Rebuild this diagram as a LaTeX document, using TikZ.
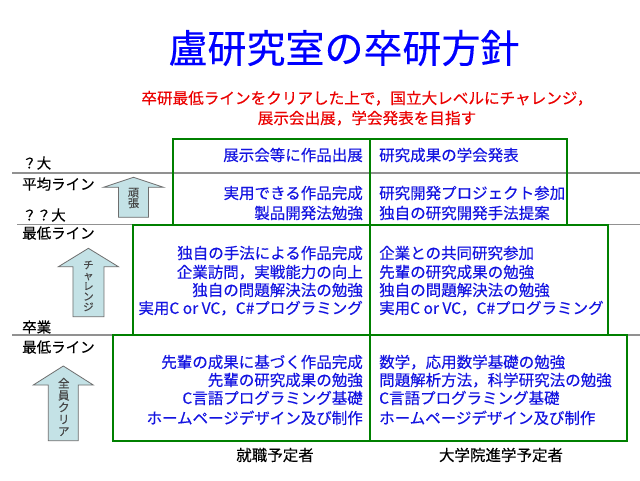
\documentclass[tikz,border=0pt]{standalone}
\usepackage{fontspec}
\newfontfamily\jp[FakeBold=0.3]{Noto Sans CJK JP}
\definecolor{tblue}{RGB}{0,0,255}
\definecolor{bblue}{RGB}{20,20,225}
\definecolor{boxgreen}{RGB}{0,128,0}
\definecolor{lgray}{RGB}{145,145,145}
\definecolor{arrfill}{RGB}{196,226,230}
\definecolor{arrline}{RGB}{110,110,110}
\definecolor{sred}{RGB}{235,0,0}
\definecolor{atext}{RGB}{70,70,70}
\begin{document}
\begin{tikzpicture}[x=1pt,y=-1pt,
  cell/.style={inner sep=0pt, text=bblue, font=\jp\fontsize{15.5}{18}\selectfont, text height=13.6pt, text depth=1.9pt},
  lcell/.style={cell, anchor=east},
  rcell/.style={cell, anchor=west},
  side/.style={inner sep=0pt, anchor=west, text=black, font=\jp\fontsize{14.5}{17}\selectfont, text height=12.8pt, text depth=1.7pt},
  foot/.style={inner sep=0pt, text=black, font=\jp\fontsize{15.5}{18}\selectfont, text height=13.6pt, text depth=1.9pt},
  sub/.style={inner sep=0pt, text=sred, font=\jp\fontsize{15.6}{19}\selectfont, text height=13.7pt, text depth=1.9pt},
  grayline/.style={draw=lgray, line width=1.6pt},
  greenbox/.style={draw=boxgreen, line width=2pt},
  uparrow/.style={fill=arrfill, draw=arrline, line width=0.8pt, line join=miter},
  atxt/.style={inner sep=0pt, align=center, text=atext}
]
\useasboundingbox (0,0) rectangle (640,480);
\fill[white] (0,0) rectangle (640,480);

% title
\node[inner sep=0pt, text=tblue, font=\jp\fontsize{39}{44}\selectfont, text height=34.3pt, text depth=4.7pt] (title) at (344,48) {盧研究室の卒研方針};
\node[sub] (sub1) at (367,98) {卒研最低ラインをクリアした上で，国立大レベルにチャレンジ，};
\node[sub] (sub2) at (367,118) {展示会出展，学会発表を目指す};

% gray level lines
\coordinate (g1a) at (12,173);  \coordinate (g1b) at (640,173);
\coordinate (g2a) at (17,224.5); \coordinate (g2b) at (640,224.5);
\coordinate (g3a) at (12,335);  \coordinate (g3b) at (640,335);
\draw[grayline] (g1a) -- (g1b);
\draw[grayline] (g2a) -- (g2b);
\draw[grayline] (g3a) -- (g3b);

% green boxes
\draw[greenbox] (173,139) rectangle (567,224.5);
\draw[greenbox] (133,224.5) rectangle (608,335);
\draw[greenbox] (113,335) rectangle (627,441);
\coordinate (dtop) at (370,139); \coordinate (dbot) at (370,441);
\draw[greenbox] (dtop) -- (dbot);

% side labels
\node[side] (s1) at (22,163) {？大};
\node[side] (s2) at (22,184) {平均ライン};
\node[side] (s3) at (22,215) {？？大};
\node[side] (s4) at (22,233) {最低ライン};
\node[side] (s5) at (22,327) {卒業};
\node[side] (s6) at (22,347) {最低ライン};

% arrows
\draw[uparrow] (133.5,177.3) -- (163.5,187.3) -- (148.5,187.3) -- (148.5,217.3) -- (118.5,217.3) -- (118.5,187.3) -- (103.5,187.3) -- cycle;
\node[atxt, font=\jp\fontsize{11}{10.5}\selectfont] (a1) at (133.5,198) {頑\\張};
\draw[uparrow] (88.4,248.3) -- (118.4,266.7) -- (103.9,266.7) -- (103.9,316.7) -- (72.9,316.7) -- (72.9,266.7) -- (58.4,266.7) -- cycle;
\node[atxt, font=\jp\fontsize{10.5}{10.5}\selectfont] (a2) at (88.4,286) {チ\\ャ\\レ\\ン\\ジ};
\draw[uparrow] (63.3,366) -- (93.3,385) -- (78.3,385) -- (78.3,440.7) -- (48.3,440.7) -- (48.3,385) -- (33.3,385) -- cycle;
\node[atxt, font=\jp\fontsize{11.5}{12}\selectfont] (a3) at (63.8,407) {全\\員\\ク\\リ\\ア};

% top box
\node[lcell] (t1) at (363,155) {展示会等に作品出展};
\node[lcell] (t2) at (363,193) {実用できる作品完成};
\node[lcell] (t3) at (363,213) {製品開発法勉強};
\node[rcell] (u1) at (379,155) {研究成果の学会発表};
\node[rcell] (u2) at (379,193) {研究開発プロジェクト参加};
\node[rcell] (u3) at (379,213) {独自の研究開発手法提案};

% middle box
\node[lcell] (m1) at (363,253) {独自の手法による作品完成};
\node[lcell] (m2) at (363,272) {企業訪問，実戦能力の向上};
\node[lcell] (m3) at (363,290) {独自の問題解決法の勉強};
\node[lcell] (m4) at (363,308) {実用C or VC，C\#プログラミング};
\node[rcell] (n1) at (379,253) {企業との共同研究参加};
\node[rcell] (n2) at (379,272) {先輩の研究成果の勉強};
\node[rcell] (n3) at (379,290) {独自の問題解決法の勉強};
\node[rcell] (n4) at (379,308) {実用C or VC，C\#プログラミング};

% bottom box
\node[lcell] (b1) at (363,362) {先輩の成果に基づく作品完成};
\node[lcell] (b2) at (363,380) {先輩の研究成果の勉強};
\node[lcell] (b3) at (363,398) {C言語プログラミング基礎};
\node[lcell] (b4) at (363,418) {ホームページデザイン及び制作};
\node[rcell] (c1) at (379,362) {数学，応用数学基礎の勉強};
\node[rcell] (c2) at (379,380) {問題解析方法，科学研究法の勉強};
\node[rcell] (c3) at (379,398) {C言語プログラミング基礎};
\node[rcell] (c4) at (379,418) {ホームページデザイン及び制作};

% column labels
\node[foot] (f1) at (275,455) {就職予定者};
\node[foot] (f2) at (501,455) {大学院進学予定者};
\end{tikzpicture}
\end{document}
